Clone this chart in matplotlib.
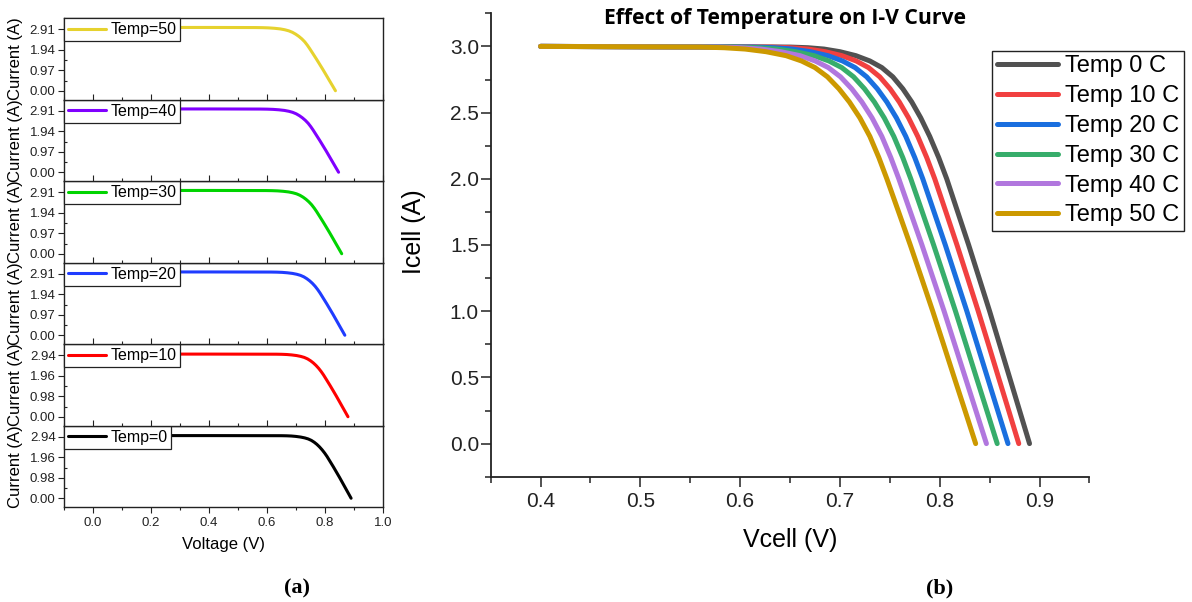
"""I-V curves of a solar cell at different temperatures: stacked panels (a) and overlay (b)."""

import matplotlib
matplotlib.use("Agg")
import matplotlib.pyplot as plt
import numpy as np
from matplotlib.ticker import FixedLocator, MultipleLocator

plt.rcParams["font.family"] = ["Liberation Sans", "DejaVu Sans"]

CURRENT_LEVELS = [3.000, 2.995, 2.99, 2.98, 2.96, 2.93, 2.89, 2.84, 2.77, 2.68,
                  2.58, 2.46, 2.32, 2.16, 2.00, 1.75, 1.50, 1.25, 1.00, 0.75,
                  0.50, 0.25, 0.00]

# Voltage (V) of each temperature curve at those current levels
V_TEMP_0 = [0.400, 0.650, 0.668, 0.684, 0.700, 0.716, 0.730, 0.742, 0.753, 0.763,
            0.772, 0.781, 0.790, 0.799, 0.807, 0.818, 0.829, 0.8395, 0.850, 0.860,
            0.870, 0.880, 0.890]
V_TEMP_10 = [0.400, 0.632, 0.6512, 0.6682, 0.6852, 0.702, 0.7163, 0.7286, 0.7399,
             0.7502, 0.7595, 0.7688, 0.778, 0.787, 0.795, 0.8062, 0.8173, 0.8280,
             0.8386, 0.8488, 0.8589, 0.8691, 0.8792]
V_TEMP_20 = [0.400, 0.614, 0.6344, 0.6524, 0.6704, 0.688, 0.7026, 0.7152, 0.7268,
             0.7374, 0.747, 0.7566, 0.766, 0.775, 0.783, 0.7943, 0.8056, 0.8164,
             0.8272, 0.8375, 0.8478, 0.8581, 0.8684]
V_TEMP_30 = [0.400, 0.596, 0.6176, 0.6366, 0.6556, 0.674, 0.6889, 0.7018, 0.7137,
             0.7246, 0.7345, 0.7444, 0.754, 0.763, 0.771, 0.7825, 0.7939, 0.8049,
             0.8158, 0.8263, 0.8367, 0.8472, 0.8576]
V_TEMP_40 = [0.400, 0.578, 0.6008, 0.6208, 0.6408, 0.660, 0.6752, 0.6884, 0.7006,
             0.7118, 0.722, 0.7322, 0.742, 0.751, 0.759, 0.7706, 0.7822, 0.7933,
             0.8044, 0.8150, 0.8256, 0.8362, 0.8468]
V_TEMP_50 = [0.400, 0.560, 0.584, 0.605, 0.626, 0.646, 0.6615, 0.675, 0.6875,
             0.699, 0.7095, 0.720, 0.730, 0.739, 0.747, 0.7588, 0.7705, 0.7818,
             0.793, 0.8038, 0.8145, 0.8253, 0.836]

TEMPS = [0, 10, 20, 30, 40, 50]
VOLTAGES = [V_TEMP_0, V_TEMP_10, V_TEMP_20, V_TEMP_30, V_TEMP_40, V_TEMP_50]

# Stacked panels (a) start their sweep at 0 V
STACK_START_V = 0.0
STACK_YTICKS = {
    0: [0.00, 0.98, 1.96, 2.94],
    10: [0.00, 0.98, 1.96, 2.94],
    20: [0.00, 0.97, 1.94, 2.91],
    30: [0.00, 0.97, 1.94, 2.91],
    40: [0.00, 0.97, 1.94, 2.91],
    50: [0.00, 0.97, 1.94, 2.91],
}

STACK_COLORS = {0: "#000000", 10: "#ff0000", 20: "#1f3cff",
                30: "#00d400", 40: "#8000ff", 50: "#e6d22e"}
OVERLAY_COLORS = {0: "#515151", 10: "#f14040", 20: "#1a6fdf",
                  30: "#37ad6b", 40: "#b177de", 50: "#cc9900"}

W, H = 1192, 602
fig = plt.figure(figsize=(W / 100, H / 100), dpi=100)


def fx(px):
    return px / W


def fy(px):
    return 1 - px / H


# ---------------- (a) stacked panels ----------------
left, right = 64, 383
top, bottom = 18.3, 507.3
panel_h = (bottom - top) / len(TEMPS)

for i, temp in enumerate(TEMPS):
    # temp 0 at the bottom, temp 50 on top
    y_bot = bottom - i * panel_h
    ax = fig.add_axes([fx(left), fy(y_bot), fx(right - left), panel_h / H])
    v = np.concatenate([[STACK_START_V], VOLTAGES[i]])
    c = np.concatenate([[CURRENT_LEVELS[0]], CURRENT_LEVELS])
    ax.plot(v, c, color=STACK_COLORS[temp], lw=2.2, solid_capstyle="round",
            solid_joinstyle="round", label=f"Temp={temp}")
    ticks = STACK_YTICKS[temp]
    step = ticks[1]
    ax.set_ylim(-0.443 * step, ticks[-1] + 0.54 * step)
    ax.yaxis.set_major_locator(FixedLocator(ticks))
    ax.yaxis.set_minor_locator(FixedLocator([t + step / 2 for t in ticks[:-1]]))
    ax.set_yticklabels([f"{t:.2f}" for t in ticks])
    ax.set_xlim(-0.1, 1.0)
    ax.xaxis.set_major_locator(MultipleLocator(0.2))
    ax.xaxis.set_minor_locator(MultipleLocator(0.1))
    for s in ax.spines.values():
        s.set_linewidth(1.0)
        s.set_color("#222222")
    ax.tick_params(axis="y", which="major", direction="out", length=4, width=0.8,
                   labelsize=9.5, pad=2, colors="#222222")
    ax.tick_params(axis="y", which="minor", direction="in", length=2.5, width=0.8,
                   colors="#222222")
    if i == 0:
        ax.tick_params(axis="x", which="major", direction="out", length=4, width=0.8,
                       labelsize=9.5, pad=3, colors="#222222")
        ax.tick_params(axis="x", which="minor", direction="out", length=2.5, width=0.8,
                       colors="#222222")
        ax.set_xlabel("Voltage (V)", fontsize=12, labelpad=6)
    else:
        ax.tick_params(axis="x", which="major", direction="in", length=4, width=0.8,
                       labelbottom=False, colors="#222222")
        ax.tick_params(axis="x", which="minor", direction="in", length=2.5, width=0.8,
                       colors="#222222")
    leg = ax.legend(loc="upper left", bbox_to_anchor=(0, 1), borderaxespad=0,
                    fontsize=11.5, handlelength=2.4, handletextpad=0.25,
                    borderpad=0.25, fancybox=False, framealpha=1)
    leg.get_frame().set_edgecolor("#222222")
    leg.get_frame().set_linewidth(0.9)
    fig.text(fx(16), fy(y_bot - panel_h / 2), "Current (A)", rotation=90,
             ha="center", va="center", fontsize=12)

# ---------------- (b) overlay ----------------
axb = fig.add_axes([fx(490.7), fy(476.7), fx(1089.4 - 490.7), (476.7 - 13.3) / H])
for temp, volts in zip(TEMPS, VOLTAGES):
    axb.plot(volts, CURRENT_LEVELS, color=OVERLAY_COLORS[temp], lw=3.6,
             solid_capstyle="round", solid_joinstyle="round",
             label=f"Temp {temp} C")
axb.set_xlim(0.35, 0.95)
axb.set_ylim(-0.25, 3.25)
axb.xaxis.set_major_locator(MultipleLocator(0.1))
axb.xaxis.set_minor_locator(MultipleLocator(0.05))
axb.yaxis.set_major_locator(MultipleLocator(0.5))
axb.yaxis.set_minor_locator(MultipleLocator(0.25))
axb.spines["top"].set_visible(False)
axb.spines["right"].set_visible(False)
for s in ("left", "bottom"):
    axb.spines[s].set_linewidth(1.3)
    axb.spines[s].set_color("#222222")
axb.tick_params(which="major", direction="out", length=7, width=1.1,
                labelsize=15, colors="#222222")
axb.tick_params(axis="y", which="major", pad=1.5)
axb.tick_params(axis="x", which="major", pad=4)
axb.tick_params(which="minor", direction="out", length=4, width=1.1, colors="#222222")
axb.set_xlabel("Vcell (V)", fontsize=18, labelpad=12)
fig.text(fx(414), fy(232), "Icell (A)", rotation=90, ha="center", va="center",
         fontsize=18)

legb = axb.legend(loc="upper left", bbox_to_anchor=(fx(992), fy(50.7)),
                  bbox_transform=fig.transFigure, borderaxespad=0, fontsize=17,
                  handlelength=2.6, handletextpad=0.3, labelspacing=0.33,
                  borderpad=0.2, fancybox=False, framealpha=1)
legb.get_frame().set_edgecolor("#222222")
legb.get_frame().set_linewidth(1.0)

fig.text(fx(785), fy(18.5), "Effect of Temperature on I-V Curve", ha="center",
         va="center", fontsize=15.2, fontweight="bold", family="Open Sans")

fig.text(fx(297), fy(588), "(a)", ha="center", va="center", fontsize=16,
         fontweight="bold", family="Liberation Serif")
fig.text(fx(940), fy(588), "(b)", ha="center", va="center", fontsize=16,
         fontweight="bold", family="Liberation Serif")

fig.savefig("out.png", dpi=100)
